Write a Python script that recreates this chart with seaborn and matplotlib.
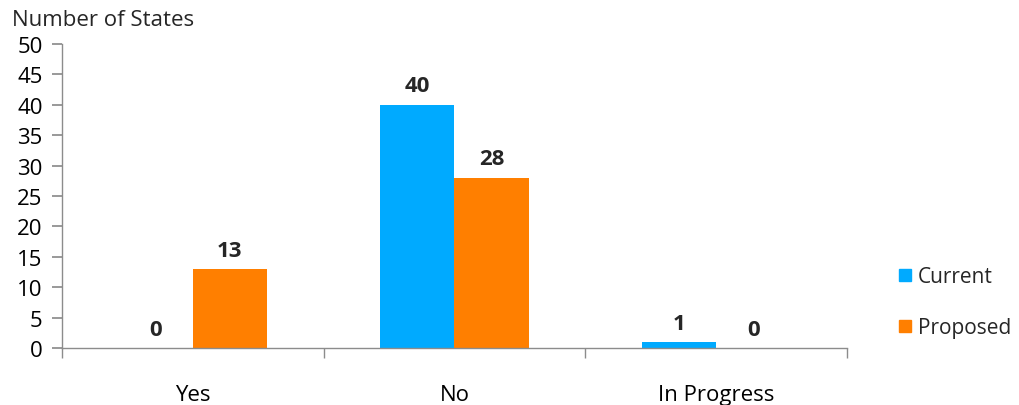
import matplotlib
matplotlib.use("Agg")
import matplotlib.pyplot as plt
import seaborn as sns
import pandas as pd
from matplotlib.lines import Line2D

categories = ["Yes", "No", "In Progress"]
current = [0, 40, 1]
proposed = [13, 28, 0]
series_names = ["Current", "Proposed"]
y_ticks = list(range(0, 51, 5))

df = pd.DataFrame({
    "category": categories * 2,
    "series": [series_names[0]] * 3 + [series_names[1]] * 3,
    "value": current + proposed,
})

sns.set_theme(style="white")
plt.rcParams["font.family"] = ["Open Sans", "DejaVu Sans"]

colors = {"Current": "#00AAFF", "Proposed": "#FF7F00"}
FS = 16

fig = plt.figure(figsize=(10.19, 4.06), dpi=100)
ax = fig.add_axes([62 / 1019, 57 / 406, 785 / 1019, 304 / 406])

sns.barplot(data=df, x="category", y="value", hue="series", order=categories,
            hue_order=series_names, palette=colors, width=0.566, saturation=1,
            linewidth=0, ax=ax, legend=False)

for container in ax.containers:
    ax.bar_label(container, fmt="%d", padding=6, fontsize=FS, fontweight="bold")

ax.set_ylim(0, 50)
ax.set_xlim(-0.5, 2.5)
ax.set_yticks(y_ticks)
ax.set_xlabel("")
ax.set_ylabel("")

for side in ["top", "right"]:
    ax.spines[side].set_visible(False)
for side in ["left", "bottom"]:
    ax.spines[side].set_color("#8c8c8c")
    ax.spines[side].set_linewidth(1)

ax.tick_params(axis="y", which="major", left=True, length=7, color="#8c8c8c",
               labelsize=FS, pad=7, direction="out", labelcolor="black")
ax.tick_params(axis="x", which="major", bottom=False, labelsize=FS, pad=20,
               labelcolor="black")
ax.set_xticks([-0.5, 0.5, 1.5, 2.5], minor=True)
ax.tick_params(axis="x", which="minor", bottom=True, length=7, color="#8c8c8c",
               direction="out")

fig.text(12 / 1019, 1 - 20 / 406, "Number of States", fontsize=FS,
         va="center", ha="left")

handles = [Line2D([], [], marker="s", linestyle="none", markersize=9,
                  markerfacecolor=colors[s], markeredgecolor=colors[s])
           for s in series_names]
fig.legend(handles, series_names, loc="center left",
           bbox_to_anchor=(876 / 1019, 1 - 303 / 406), frameon=False,
           fontsize=15, handletextpad=0.1, labelspacing=1.45, handlelength=1)

fig.savefig("out.png", dpi=100)
